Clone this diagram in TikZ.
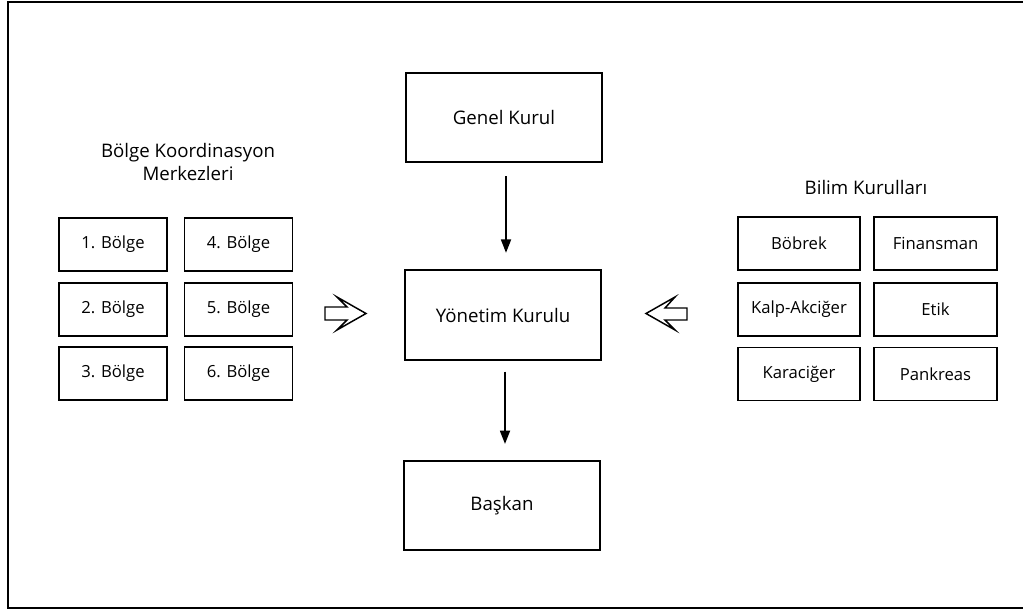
\documentclass[tikz,border=0pt]{standalone}
\usepackage{fontspec}
\setmainfont{Open Sans}
\usetikzlibrary{arrows.meta}
\begin{document}
\begin{tikzpicture}[x=0.75pt,y=-0.75pt,
  txt/.style={font=\fontsize{14}{17}\selectfont},
  bigbox/.style={draw, line width=1.3pt, minimum width=147pt, minimum height=67pt, inner sep=0pt, txt},
  smalltxt/.style={font=\fontsize{12.5}{14}\selectfont},
  regbox/.style={draw, line width=1.2pt, minimum width=81pt, minimum height=40pt, inner sep=0pt, smalltxt},
  sciboxa/.style={draw, line width=1.2pt, minimum width=91.5pt, minimum height=40pt, inner sep=0pt, smalltxt},
  sciboxb/.style={draw, line width=1.2pt, minimum width=92pt, minimum height=40pt, inner sep=0pt, smalltxt},
  flow/.style={-{Triangle[width=7.5pt,length=10pt]}, line width=1.3pt},
  hollow/.style={draw, line width=1.1pt, line join=miter, fill=white}]
\useasboundingbox (0,0) rectangle (1023,610);

% outer frame
\draw[line width=1.5pt] (1023,2) -- (8,2) -- (8,608) -- (1023,608);

% central chain
\node[bigbox] (genel) at (504,117.5) {Genel Kurul};
\node[bigbox] (yonetim) at (503,315) {Yönetim Kurulu};
\node[bigbox] (baskan) at (502,505.5) {Başkan};
\draw[flow, shorten <=9.75pt, shorten >=12.5pt] ([xshift=1.5pt]genel.south) -- ([xshift=1.5pt]genel.south |- yonetim.north);
\draw[flow, shorten <=8.25pt, shorten >=12pt] ([xshift=1.5pt]yonetim.south) -- ([xshift=1.5pt]yonetim.south |- baskan.north);

% regional coordination centres
\node[txt, align=center] (bolgelabel) at (188,162) {Bölge Koordinasyon\\Merkezleri};
\node[regbox] (b1) at (113,244.5) {1. Bölge};
\node[regbox] (b2) at (113,309.5) {2. Bölge};
\node[regbox] (b3) at (113,373.5) {3. Bölge};
\node[regbox] (b4) at (238.5,244.5) {4. Bölge};
\node[regbox] (b5) at (238.5,309.5) {5. Bölge};
\node[regbox] (b6) at (238.5,373.5) {6. Bölge};

% scientific committees
\node[txt] (bilimlabel) at (866,187) {Bilim Kurulları};
\node[sciboxa] (s1) at (799,243.5) {Böbrek};
\node[sciboxa] (s2) at (799,309.5) {Kalp-Akciğer};
\node[sciboxa] (s3) at (799,374) {Karaciğer};
\node[sciboxb] (s4) at (935.5,243.5) {Finansman};
\node[sciboxb] (s5) at (935.5,309.5) {Etik};
\node[sciboxb] (s6) at (935.5,374) {Pankreas};

% hollow block arrows pointing to the board
\draw[hollow] (325,307) -- (347,307) -- (337,297) -- (366,313.5) -- (337,330) -- (347,320) -- (325,320) -- cycle;
\draw[hollow] (687,308) -- (665,308) -- (675,297) -- (646,313.5) -- (675,330) -- (665,320) -- (687,320) -- cycle;
\end{tikzpicture}
\end{document}
